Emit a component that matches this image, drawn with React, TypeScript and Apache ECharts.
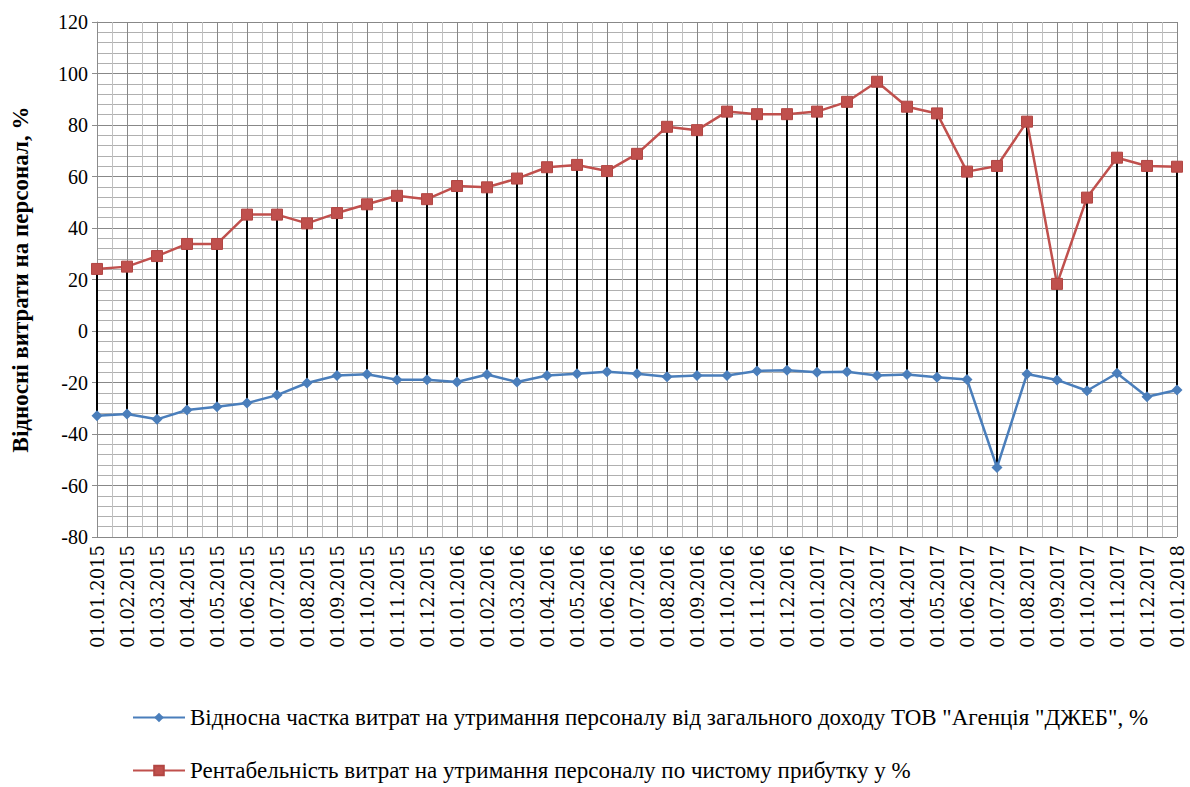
import React, { useEffect, useRef } from "react";
import * as echarts from "echarts";

const categories = [
  "01.01.2015", "01.02.2015", "01.03.2015", "01.04.2015", "01.05.2015", "01.06.2015",
  "01.07.2015", "01.08.2015", "01.09.2015", "01.10.2015", "01.11.2015", "01.12.2015",
  "01.01.2016", "01.02.2016", "01.03.2016", "01.04.2016", "01.05.2016", "01.06.2016",
  "01.07.2016", "01.08.2016", "01.09.2016", "01.10.2016", "01.11.2016", "01.12.2016",
  "01.01.2017", "01.02.2017", "01.03.2017", "01.04.2017", "01.05.2017", "01.06.2017",
  "01.07.2017", "01.08.2017", "01.09.2017", "01.10.2017", "01.11.2017", "01.12.2017",
  "01.01.2018",
];

const shareOfIncome = [
  -32.9, -32.2, -34.3, -30.7, -29.4, -28.0, -24.9, -20.2, -17.3, -16.8, -18.9, -18.9,
  -19.8, -16.9, -19.8, -17.3, -16.6, -15.8, -16.6, -17.8, -17.3, -17.3, -15.5, -15.2,
  -16.0, -15.8, -17.3, -16.9, -18.0, -18.8, -53.0, -16.7, -19.0, -23.2, -16.4, -25.5,
  -22.9,
];

const profitability = [
  24.1, 25.0, 29.1, 33.8, 33.8, 45.2, 45.2, 41.8, 45.8, 49.2, 52.5, 51.2,
  56.3, 55.8, 59.2, 63.6, 64.5, 62.1, 68.8, 79.3, 78.0, 85.2, 84.2, 84.2,
  85.2, 89.0, 96.8, 87.1, 84.5, 61.9, 64.1, 81.3, 18.3, 51.8, 67.3, 64.1,
  63.8,
];

const seriesNames = [
  'Відносна частка витрат на утримання персоналу від загального доходу ТОВ "Агенція "ДЖЕБ", %',
  "Рентабельність витрат на утримання персоналу по чистому прибутку у %",
];

const yAxisTitle = "Відносні витрати на персонал, %";
const yMin = -80;
const yMax = 120;
const yStep = 20;

const FONT = "'Liberation Serif', 'Times New Roman', serif";
const FONT_X = "'DejaVu Serif', serif";

export default function App() {
  const ref = useRef<HTMLDivElement>(null);

  useEffect(() => {
    if (!ref.current) return;
    const chart = echarts.init(ref.current, undefined, { renderer: "svg" });
    const hiLo = categories.map((_, i) => [i, shareOfIncome[i], profitability[i]]);
    const legendBase = {
      orient: "horizontal",
      left: 127,
      itemWidth: 52,
      itemHeight: 12,
      itemGap: 4,
      textStyle: { fontFamily: FONT, fontSize: 23, color: "#000" },
    };

    chart.setOption({
      animation: false,
      backgroundColor: "#ffffff",
      grid: { left: 97, right: 13, top: 22, bottom: 250 },
      legend: [
        { ...legendBase, data: [seriesNames[0]], top: 701 },
        { ...legendBase, data: [seriesNames[1]], top: 754 },
      ],
      xAxis: [
        {
          type: "category",
          data: categories,
          boundaryGap: false,
          axisLine: { show: true, lineStyle: { color: "#8c8c8c", width: 1 } },
          axisTick: { show: true, length: 5, lineStyle: { color: "#8c8c8c" } },
          axisLabel: {
            rotate: 90,
            margin: 8,
            fontFamily: FONT_X,
            fontSize: 18,
            color: "#000",
            interval: 0,
          },
          splitLine: { show: true, lineStyle: { color: "#888888", width: 1 } },
        },
        {
          type: "value",
          min: 0,
          max: categories.length - 1,
          interval: 1,
          position: "top",
          axisLine: { show: false },
          axisTick: { show: false },
          axisLabel: { show: false },
          splitLine: { show: false },
          minorTick: { show: false, splitNumber: 2 },
          minorSplitLine: { show: true, lineStyle: { color: "#c0c0c0", width: 1 } },
        },
      ],
      yAxis: {
        type: "value",
        min: yMin,
        max: yMax,
        interval: yStep,
        name: yAxisTitle,
        nameLocation: "middle",
        nameGap: 65,
        nameTextStyle: { fontFamily: FONT, fontSize: 23, fontWeight: "bold", color: "#000" },
        axisLine: { show: true, lineStyle: { color: "#8c8c8c", width: 1 } },
        axisTick: { show: true, length: 5, lineStyle: { color: "#8c8c8c" } },
        axisLabel: { fontFamily: FONT, fontSize: 20, color: "#000", margin: 9 },
        splitLine: { show: true, lineStyle: { color: "#888888", width: 1 } },
        minorTick: { show: false, splitNumber: 5 },
        minorSplitLine: { show: true, lineStyle: { color: "#b0b0b0", width: 1 } },
      },
      series: [
        {
          type: "custom",
          name: "hilo",
          xAxisIndex: 0,
          yAxisIndex: 0,
          silent: true,
          z: 1,
          data: hiLo,
          encode: { x: 0, y: [1, 2] },
          renderItem: (_params: any, api: any) => {
            const i = api.value(0);
            const a = api.coord([i, api.value(1)]);
            const b = api.coord([i, api.value(2)]);
            return {
              type: "line",
              shape: { x1: a[0], y1: a[1], x2: b[0], y2: b[1] },
              style: { stroke: "#000000", lineWidth: 2 },
            };
          },
        },
        {
          type: "line",
          name: seriesNames[0],
          data: shareOfIncome,
          z: 3,
          symbol: "diamond",
          symbolSize: 11,
          itemStyle: { color: "#4A7EBB" },
          lineStyle: { color: "#4A7EBB", width: 2.5 },
        },
        {
          type: "line",
          name: seriesNames[1],
          data: profitability,
          z: 3,
          symbol: "rect",
          symbolSize: 11,
          itemStyle: { color: "#C0504D", borderColor: "#B24643", borderWidth: 1 },
          lineStyle: { color: "#C0504D", width: 2.5 },
        },
      ],
    });
    return () => chart.dispose();
  }, []);

  return (
    <div
      ref={ref}
      style={{ position: "fixed", left: 0, top: 0, width: 1190, height: 787, background: "#fff" }}
    />
  );
}
